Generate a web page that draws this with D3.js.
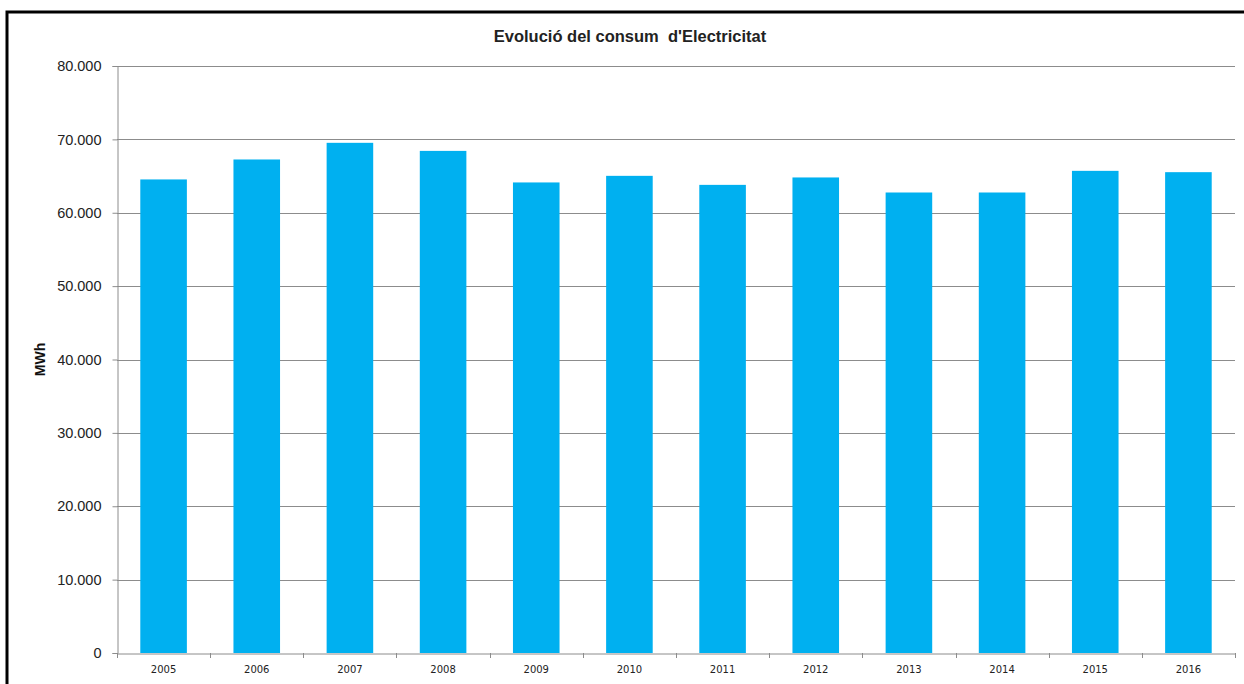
<!DOCTYPE html>
<html><head><meta charset="utf-8">
<script src="https://cdn.jsdelivr.net/npm/d3@7"></script>
<style>html,body{margin:0;padding:0;background:#fff;overflow:hidden}</style>
</head><body>
<svg id="c" width="1244" height="684"></svg>
<script>
const years = ["2005","2006","2007","2008","2009","2010","2011","2012","2013","2014","2015","2016"];
const consum = [64540,67260,69530,68430,64130,65030,63800,64810,62760,62760,65710,65530];
const yTicks = [0,10000,20000,30000,40000,50000,60000,70000,80000];
const title = "Evolució del consum  d'Electricitat";
const yTitle = "MWh";

const svg = d3.select("#c");
const m = {l:117, r:1235, t:66, b:653};

// frame
svg.append("rect").attr("x",7).attr("y",12).attr("width",1260).attr("height",700)
  .attr("fill","#fff").attr("stroke","#000").attr("stroke-width",3);

const x = d3.scaleBand().domain(years).range([m.l,m.r]).paddingInner(0.5).paddingOuter(0.25);
const y = d3.scaleLinear().domain([0,80000]).range([m.b,m.t]);
const fmt = v => d3.format(",")(v).replace(/,/g,".");

// gridlines
svg.append("g").selectAll("line").data(yTicks.filter(d=>d>0)).join("line")
  .attr("x1",m.l).attr("x2",m.r).attr("y1",d=>Math.round(y(d))+0.5).attr("y2",d=>Math.round(y(d))+0.5)
  .attr("stroke","#8c8c8c").attr("stroke-width",1);

// bars
svg.append("g").selectAll("rect").data(years).join("rect")
  .attr("x",(d)=>x(d)).attr("width",x.bandwidth())
  .attr("y",(d,i)=>y(consum[i])).attr("height",(d,i)=>y(0)-y(consum[i]))
  .attr("fill","#00b0f0");

// y axis
const ya = d3.axisLeft(y).tickValues(yTicks).tickFormat(fmt).tickSize(5).tickPadding(11);
const gy = svg.append("g").attr("transform",`translate(${m.l+0.5},0)`).call(ya);
gy.select(".domain").attr("stroke","#8c8c8c");
gy.selectAll(".tick line").attr("stroke","#8c8c8c");
gy.selectAll("text").attr("font-family","Liberation Sans, Arial, sans-serif").attr("font-size",14.5).attr("fill","#222");

// x axis
const xa = d3.axisBottom(x).tickSize(0).tickPadding(12);
const gx = svg.append("g").attr("transform",`translate(0,${m.b+0.5})`).call(xa);
gx.select(".domain").attr("stroke","#8c8c8c");
gx.selectAll("text").attr("font-family","DejaVu Sans, sans-serif").attr("font-size",10).attr("fill","#222");
// category boundary ticks
const bounds = years.map(d=>x(d)-x.step()*x.paddingInner()/2).concat([m.r]);
svg.append("g").selectAll("line").data(bounds).join("line")
  .attr("x1",d=>Math.round(d)+0.5).attr("x2",d=>Math.round(d)+0.5)
  .attr("y1",m.b).attr("y2",m.b+5).attr("stroke","#8c8c8c");

// title
svg.append("text").attr("x",630).attr("y",42).attr("text-anchor","middle")
  .attr("font-family","Liberation Sans, Arial, sans-serif").attr("font-size",16.5).attr("font-weight","bold")
  .attr("fill","#222").style("white-space","pre").text(title);

// y title
svg.append("text").attr("transform",`translate(45,${(m.t+m.b)/2}) rotate(-90)`).attr("text-anchor","middle")
  .attr("font-family","Liberation Sans, Arial, sans-serif").attr("font-size",14).attr("font-weight","bold")
  .attr("fill","#111").text(yTitle);
</script>
</body></html>
